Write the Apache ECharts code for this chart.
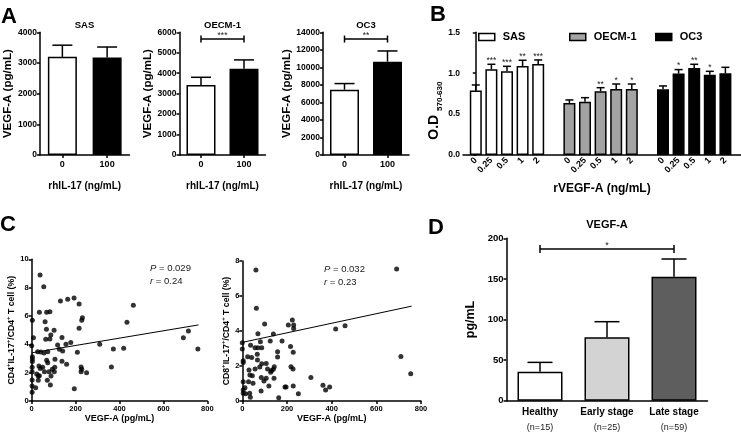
<!DOCTYPE html>
<html><head><meta charset="utf-8">
<script src="https://cdn.jsdelivr.net/npm/echarts@6/dist/echarts.min.js"></script>
<style>html,body{margin:0;padding:0;background:#fff}#c{width:741px;height:432px}</style>
</head><body><div id="c"></div>
<script>
// ---------- Panel A ----------
const aCategories = ['0', '100'];
const aPanels = ['SAS', 'OECM-1', 'OC3'];
const aSAS = [3200, 3180];
const aSASErr = [3580, 3520];
const aOECM = [3420, 4220];
const aOECMErr = [3800, 4650];
const aOC3 = [7450, 10650];
const aOC3Err = [8150, 11870];
const aMax = [4000, 6000, 14000];
const aInterval = [1000, 1000, 2000];
const aSig = ['', '***', '**'];
const aSigY = [0, 5670, 13230];

// ---------- Panel B ----------
const bDoses = ['0', '0.25', '0.5', '1', '2'];
const bGroups = ['SAS', 'OECM-1', 'OC3'];
const bSAS = [0.787, 1.048, 1.023, 1.088, 1.113];
const bSASErr = [0.856, 1.109, 1.084, 1.158, 1.162];
const bSASSig = ['', '***', '***', '**', '***'];
const bOECM = [0.636, 0.652, 0.779, 0.807, 0.807];
const bOECMErr = [0.673, 0.701, 0.823, 0.868, 0.868];
const bOECMSig = ['', '', '**', '*', '*'];
const bOC3 = [0.803, 0.995, 1.064, 0.982, 0.999];
const bOC3Err = [0.844, 1.044, 1.109, 1.023, 1.072];
const bOC3Sig = ['', '*', '**', '*', ''];

// ---------- Panel C ----------
const cLeftX = [38,55,35,68,83,131,164,193,216,463, 3,61,231,228,434,216,67,102,8,64, 87,83,138,691,714,178,156,118,0,310, 372,419,757,27,41,56,73,126,141,208, 3,3,3,68,106,138,73,159,33,50, 39,105,94,225,228,363,2,2,250,225, 79,103,58,23,35,88,71,30,2,85, 2,18,194,2,30];
const cLeftY = [8.9,8.07,6.26,6.26,6.3,7.06,7.18,7.27,6.85,6.75, 5.69,5.6,5.88,5.69,5.55,5.13,5.06,4.99,4.47,4.35, 4.66,4.38,4.49,4.47,4.94,4.12,4.0,3.95,3.9,4.0, 3.67,3.72,3.67,3.48,3.46,3.39,3.48,3.65,3.53,3.44, 3.13,2.96,2.78,2.87,2.94,2.8,2.7,2.59,2.47,2.38, 2.3,2.38,2.24,2.4,2.24,2.4,2.38,2.07,2.0,2.07, 2.07,2.07,2.07,1.9,1.79,1.76,1.46,1.46,1.48,1.13, 1.06,0.94,0.87,0.61,1.77];
const cLeftFitX = [0, 760];
const cLeftFitY = [3.4, 5.37];
const cRightX = [61,691,63,100,206,224,230,230,418,460, 70,139,0,37,57,70,87,81,125,178, 216,0,158,158,228,67,24,42,68,4, 4,710,87,30,57,78,143,139,218,227, 113,127,131,754,34,45,85,107,142,307, 97,4,119,228,191,196,361,391,373,84, 4,4,15,33,36,163,251,12,107,48,28];
const cRightY = [7.49,7.54,5.3,4.4,4.34,4.63,4.34,4.15,4.11,4.3, 3.85,3.83,3.33,3.18,3.05,3.05,3.05,3.39,3.43,3.43, 3.12,2.97,2.82,2.51,2.78,2.67,2.53,2.48,2.34,2.3, 2.2,2.55,2.13,1.77,1.83,1.94,1.96,1.81,1.96,1.83, 1.83,1.64,1.75,1.56,1.49,1.45,1.35,1.3,1.3,1.35, 1.14,1.1,0.86,0.86,0.8,0.8,0.9,0.8,0.63,0.57, 0.63,0.44,0.42,0.44,0.21,0.19,0.42,0.76,2.15,1.02,1.1];
const cRightFitX = [0, 758];
const cRightFitY = [3.35, 5.42];
const cLeftStats = ['0.029', '0.24'];
const cRightStats = ['0.032', '0.23'];

// ---------- Panel D ----------
const dCategories = ['Healthy', 'Early stage', 'Late stage'];
const dN = ['(n=15)', '(n=25)', '(n=59)'];
const dValues = [35.7, 78, 152.8];
const dErr = [47.2, 97.3, 174.5];
const dSigY = 186.8;

// ================= build =================
const FONT = '"Liberation Sans", Arial, Helvetica, sans-serif';
const BLACK = '#000';
const lineSty = {show: true, lineStyle: {color: BLACK, width: 1.5}};
const tickSty = {show: true, length: 3, lineStyle: {color: BLACK, width: 1.5}};
const lbl = (fs, extra) => Object.assign({color: BLACK, fontFamily: FONT, fontWeight: 'bold', fontSize: fs}, extra || {});
const plain = v => String(v);

const grids = [
  {left: 40, top: 32.3, width: 89.5, height: 122.7},
  {left: 179.5, top: 32.3, width: 86, height: 122.7},
  {left: 323, top: 32.3, width: 86, height: 122.7},
  {left: 463, top: 32.3, width: 278, height: 122.7},
  {left: 31.7, top: 259.3, width: 175.6, height: 141.7},
  {left: 242.3, top: 261, width: 178.7, height: 140},
  {left: 506.5, top: 238.3, width: 201, height: 162.4}
].map(g => Object.assign({containLabel: false, outerBoundsMode: 'none'}, g));

const xAxes = [];
const yAxes = [];
const series = [];

function errSeries(ax, vals, tops, capHalf, sigs, xs) {
  return {
    type: 'custom', xAxisIndex: ax, yAxisIndex: ax, z: 5, silent: true,
    data: vals.map((v, i) => [xs ? xs[i] : i, tops[i], v]),
    encode: {x: 0, y: 1},
    renderItem(params, api) {
      const x = api.value(0), top = api.value(1), val = api.value(2);
      const p0 = api.coord([x, val]), p1 = api.coord([x, top]);
      const st = {stroke: BLACK, lineWidth: 1.5};
      const ch = [
        {type: 'line', shape: {x1: p0[0], y1: p0[1], x2: p1[0], y2: p1[1]}, style: st},
        {type: 'line', shape: {x1: p1[0] - capHalf, y1: p1[1], x2: p1[0] + capHalf, y2: p1[1]}, style: st}
      ];
      const s = sigs ? sigs[params.dataIndex] : '';
      if (s) ch.push({type: 'text', style: {text: s, x: p1[0], y: p1[1] + 1, align: 'center', verticalAlign: 'bottom', fontSize: 8.5, fontFamily: FONT, fill: '#222'}});
      return {type: 'group', children: ch};
    }
  };
}
function bracketSeries(ax, x1, x2, y, text, capH, fs) {
  return {
    type: 'custom', xAxisIndex: ax, yAxisIndex: ax, z: 5, silent: true,
    data: [[x1, y, x2]],
    encode: {x: 0, y: 1},
    renderItem(params, api) {
      const a = api.coord([api.value(0), api.value(1)]);
      const b = api.coord([api.value(2), api.value(1)]);
      const st = {stroke: BLACK, lineWidth: 1.5};
      return {type: 'group', children: [
        {type: 'line', shape: {x1: a[0], y1: a[1], x2: b[0], y2: b[1]}, style: st},
        {type: 'line', shape: {x1: a[0], y1: a[1] - capH, x2: a[0], y2: a[1] + capH}, style: st},
        {type: 'line', shape: {x1: b[0], y1: b[1] - capH, x2: b[0], y2: b[1] + capH}, style: st},
        {type: 'text', style: {text: text, x: (a[0] + b[0]) / 2, y: a[1] + 1, align: 'center', verticalAlign: 'bottom', fontSize: fs, fontFamily: FONT, fill: '#222'}}
      ]};
    }
  };
}

// Panel A axes/series
const aVals = [aSAS, aOECM, aOC3];
const aErrs = [aSASErr, aOECMErr, aOC3Err];
const aNameGap = [25, 23, 29];
for (let p = 0; p < 3; p++) {
  xAxes.push({type: 'category', gridIndex: p, data: aCategories,
    axisLine: lineSty, axisTick: Object.assign({alignWithLabel: true}, tickSty),
    axisLabel: lbl(9, {margin: 5}),
    name: 'rhIL-17 (ng/mL)', nameLocation: 'middle', nameGap: 26, nameTextStyle: lbl(10)});
  yAxes.push({type: 'value', gridIndex: p, min: 0, max: aMax[p], interval: aInterval[p],
    axisLine: lineSty, axisTick: tickSty, splitLine: {show: false},
    axisLabel: lbl(8.5, {margin: 3, formatter: plain}),
    name: 'VEGF-A (pg/mL)', nameLocation: 'middle', nameRotate: 90, nameGap: aNameGap[p], nameTextStyle: lbl(11.5)});
  series.push({type: 'bar', xAxisIndex: p, yAxisIndex: p, barWidth: 29,
    data: aVals[p].map((v, i) => ({value: v, itemStyle: {color: i === 0 ? '#fff' : '#000'}})),
    itemStyle: {borderColor: BLACK, borderWidth: 1.5}});
  series.push(errSeries(p, aVals[p], aErrs[p], 10, null));
  if (aSig[p]) series.push(bracketSeries(p, 0, 1, aSigY[p], aSig[p], 3.5, 8.5));
}

// Panel B
const bVals = [bSAS, bOECM, bOC3];
const bErrs = [bSASErr, bOECMErr, bOC3Err];
const bSigs = [bSASSig, bOECMSig, bOC3Sig];
const bColors = ['#ffffff', '#a3a3a3', '#000000'];
const slotsPerGroup = bDoses.length + 1;
const bPos = bGroups.map((g, gi) => bDoses.map((d, i) => gi * slotsPerGroup + i));
const bLabelPos = [].concat(...bPos);
xAxes.push({type: 'value', gridIndex: 3, min: -0.82, max: 17,
  axisLine: lineSty, axisTick: {show: false}, splitLine: {show: false},
  axisLabel: lbl(9, {customValues: bLabelPos, rotate: 45, margin: 4,
    formatter: v => bDoses[Math.round(v) % slotsPerGroup]}),
  name: 'rVEGF-A (ng/mL)', nameLocation: 'middle', nameGap: 28, nameTextStyle: lbl(12)});
yAxes.push({type: 'value', gridIndex: 3, min: 0, max: 1.5, interval: 0.5,
  axisLine: lineSty, axisTick: tickSty, splitLine: {show: false},
  axisLabel: lbl(8.5, {margin: 3, formatter: v => v.toFixed(1)}),
  name: '{a|O.D }{b|570-630}', nameLocation: 'middle', nameRotate: 90, nameGap: 19,
  nameTextStyle: {padding: [0, 34, 0, 0], rich: {
    a: lbl(14, {lineHeight: 17, verticalAlign: 'top'}),
    b: lbl(8, {lineHeight: 17, verticalAlign: 'bottom'})}}});
bGroups.forEach((g, gi) => {
  series.push({type: 'bar', name: g, xAxisIndex: 3, yAxisIndex: 3, barWidth: 12, barGap: '-100%',
    data: bVals[gi].map((v, i) => [bPos[gi][i], v]),
    itemStyle: {color: bColors[gi], borderColor: BLACK, borderWidth: 1.5}});
  series.push(errSeries(3, bVals[gi], bErrs[gi], 4, bSigs[gi], bPos[gi]));
});
const legends = bGroups.map((g, gi) => ({
  data: [g], left: [478, 569, 655][gi], top: 31.5, padding: 0,
  icon: 'rect', itemWidth: 16, itemHeight: 7, itemGap: 0,
  itemStyle: {borderColor: BLACK, borderWidth: 1.5},
  textStyle: lbl(11, {padding: [0, 0, 0, 3]})
}));

// Panel C
const cConf = [
  {ax: 4, xs: cLeftX, ys: cLeftY, fx: cLeftFitX, fy: cLeftFitY, max: 10, gap: 13,
   name: '{n|CD4}{s|+}{n|IL-17}{s|+}{n|/CD4}{s|+}{n| T cell (%)}'},
  {ax: 5, xs: cRightX, ys: cRightY, fx: cRightFitX, fy: cRightFitY, max: 8, gap: 10,
   name: '{n|CD8}{s|+}{n|IL-17}{s|+}{n|/CD4}{s|+}{n| T cell (%)}'}
];
cConf.forEach(c => {
  xAxes.push({type: 'value', gridIndex: c.ax, min: 0, max: 800, interval: 200,
    axisLine: lineSty, axisTick: tickSty, splitLine: {show: false},
    axisLabel: lbl(7.5, {margin: 4, formatter: plain}),
    name: 'VEGF-A (pg/mL)', nameLocation: 'middle', nameGap: 13, nameTextStyle: lbl(9)});
  yAxes.push({type: 'value', gridIndex: c.ax, min: 0, max: c.max, interval: 2,
    axisLine: lineSty, axisTick: tickSty, splitLine: {show: false},
    axisLabel: lbl(7.5, {margin: 3, formatter: plain}),
    name: c.name, nameLocation: 'middle', nameRotate: 90, nameGap: c.gap,
    nameTextStyle: {rich: {
      n: lbl(8.7, {lineHeight: 11, verticalAlign: 'bottom'}),
      s: lbl(6, {lineHeight: 11, verticalAlign: 'top'})}}});
  series.push({type: 'scatter', xAxisIndex: c.ax, yAxisIndex: c.ax, symbolSize: 5,
    itemStyle: {color: BLACK}, data: c.xs.map((x, i) => [x, c.ys[i]])});
  series.push({type: 'line', xAxisIndex: c.ax, yAxisIndex: c.ax, showSymbol: false, symbol: 'none',
    lineStyle: {color: BLACK, width: 1}, data: c.fx.map((x, i) => [x, c.fy[i]])});
});

// Panel D
xAxes.push({type: 'category', gridIndex: 6, data: dCategories,
  axisLine: lineSty, axisTick: {show: false},
  axisLabel: {margin: 4, interval: 0, hideOverlap: false,
    formatter: (v, i) => '{b|' + v + '}\n{n|' + dN[i] + '}',
    rich: {b: lbl(10, {lineHeight: 15}),
           n: {fontFamily: FONT, fontWeight: 'normal', fontSize: 9, lineHeight: 15, color: '#222'}}}});
yAxes.push({type: 'value', gridIndex: 6, min: 0, max: 200, interval: 50,
  axisLine: lineSty, axisTick: tickSty, splitLine: {show: false},
  axisLabel: lbl(9.5, {margin: 3, formatter: plain}),
  name: 'pg/mL', nameLocation: 'middle', nameRotate: 90, nameGap: 29, nameTextStyle: lbl(12.5)});
const dColors = ['#ffffff', '#d3d3d3', '#5e5e5e'];
series.push({type: 'bar', xAxisIndex: 6, yAxisIndex: 6, barWidth: 45,
  data: dValues.map((v, i) => ({value: v, itemStyle: {color: dColors[i]}})),
  itemStyle: {borderColor: BLACK, borderWidth: 1.5}});
series.push(errSeries(6, dValues, dErr, 12.5, null));
series.push(bracketSeries(6, 0, 2, dSigY, '*', 4, 9));

// Titles
const T = (text, left, top, fs, extra) => Object.assign({text, left, top, padding: 0,
  textStyle: lbl(fs)}, extra || {});
const titles = [
  T('A', 1, 6, 22), T('B', 430, 4, 22), T('C', 0, 214, 22), T('D', 428, 217, 22),
  T('SAS', 84.5, 20.5, 9.5, {textAlign: 'center'}),
  T('OECM-1', 222.5, 20.5, 9.5, {textAlign: 'center'}),
  T('OC3', 366, 20.5, 9.5, {textAlign: 'center'}),
  T('VEGF-A', 607, 219, 11, {textAlign: 'center'})
];
const statRich = {i: {fontStyle: 'italic', fontWeight: 'normal', fontSize: 9.5, fontFamily: FONT, color: '#222'},
                  n: {fontWeight: 'normal', fontSize: 9.5, fontFamily: FONT, color: '#222'}};
[[150, 263, cLeftStats], [324, 264, cRightStats]].forEach(([l, t, s]) => {
  titles.push({left: l, top: t, padding: 0, text: '{i|P}{n| = ' + s[0] + '}', textStyle: {fontWeight: 'normal', rich: statRich}});
  titles.push({left: l, top: t + 13, padding: 0, text: '{i|r}{n| = ' + s[1] + '}', textStyle: {fontWeight: 'normal', rich: statRich}});
});

const chart = echarts.init(document.getElementById('c'), null, {renderer: 'canvas'});
chart.setOption({
  animation: false,
  backgroundColor: '#ffffff',
  textStyle: {fontFamily: FONT},
  title: titles,
  legend: legends,
  grid: grids,
  xAxis: xAxes,
  yAxis: yAxes,
  series: series
});
</script></body></html>
